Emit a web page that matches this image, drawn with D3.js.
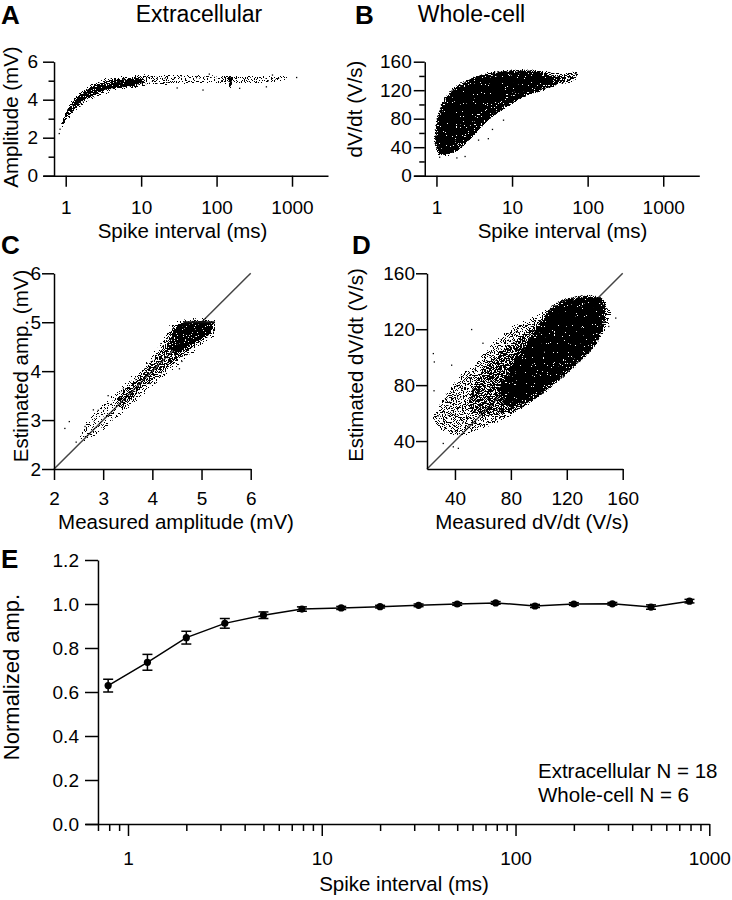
<!DOCTYPE html>
<html><head><meta charset="utf-8">
<script src="https://cdn.jsdelivr.net/npm/d3@7"></script>
<style>
body{margin:0;background:#fff;}
svg{display:block;}
</style></head><body>
<svg id="fig" width="732" height="900"></svg>
<script>
// ================= DATA =================
// Panel E: normalized amplitude vs spike interval
const eIntervals = [0.79, 1.26, 2.0, 3.16, 5.0, 7.9, 12.6, 20, 31.6, 50, 79, 126, 200, 316, 500, 790];
const eNormAmp   = [0.629, 0.735, 0.847, 0.912, 0.949, 0.977, 0.982, 0.988, 0.994, 1.0, 1.005, 0.991, 1.0, 1.001, 0.986, 1.013];
const eSem       = [0.029, 0.036, 0.029, 0.022, 0.015, 0.010, 0.007, 0.006, 0.006, 0.006, 0.006, 0.007, 0.006, 0.006, 0.010, 0.008];
const eLegend    = ["Extracellular N = 18", "Whole-cell N = 6"];

// Tick values
const logMajor = [1, 10, 100, 1000];
const logTickLabels = ["1", "10", "100", "1000"];
const aYTicks = [0, 2, 4, 6], aYMinor = [1, 3, 5];
const bYTicks = [0, 40, 80, 120, 160], bYMinor = [20, 60, 100, 140];
const cTicks = [2, 3, 4, 5, 6];
const dTicks = [40, 80, 120, 160];
const eYTicks = [0, 0.2, 0.4, 0.6, 0.8, 1.0, 1.2];
const eXMinor = [0.7, 0.8, 0.9, 2, 3, 4, 5, 6, 7, 8, 9, 20, 30, 40, 50, 60, 70, 80, 90, 200, 300, 400, 500, 600, 700, 800, 900];

// Scatter clouds: envelopes (outer / mid / dense core), [x, y]
// Panel A: amplitude (mV) vs spike interval (ms)
const aBand = [[0.86,2.5],[0.87,2.9],[0.94,3.3],[1.08,3.75],[1.32,4.2],[1.75,4.6],[2.5,4.98],[4,5.22],[7,5.3],[12,5.28],[12,4.75],[8,4.6],[5,4.45],[3,4.2],[2,3.88],[1.5,3.5],[1.2,3.1],[1.0,2.72],[0.9,2.42]];
const aPlateau = [[8,5.3],[15,5.32],[40,5.32],[120,5.3],[300,5.3],[600,5.27],[880,5.24],[880,5.02],[600,4.88],[300,4.84],[120,4.82],[40,4.8],[15,4.74],[8,4.7]];
const aMid = [[0.88,2.62],[0.93,3.05],[1.06,3.55],[1.3,4.05],[1.75,4.48],[2.5,4.85],[4,5.08],[7,5.16],[11,5.14],[11,4.82],[7,4.68],[4,4.55],[2.8,4.33],[2,4.05],[1.5,3.68],[1.2,3.28],[1.0,2.88],[0.9,2.58]];
const aCore = [[1.25,3.85],[1.7,4.35],[2.5,4.72],[4,4.95],[6.5,5.03],[9,5.0],[9,4.8],[6,4.7],[4,4.6],[2.8,4.45],[2,4.18],[1.5,3.82],[1.3,3.6]];
const aSpike = [[144,5.18],[160,5.18],[157,4.85],[152,4.58],[147,4.85]];
const aOutliers = [[0.82,2.22],[0.84,2.45],[1150,5.17],[457,4.68],[202,4.6],[66,4.51],[30,4.62],[550,5.3],[80,5.35]];

// Panel B: dV/dt (V/s) vs spike interval (ms)
const bOuter = [[0.98,35],[1.0,50],[1.04,62],[1.12,85],[1.32,104],[1.62,118],[2.2,130],[3.3,138],[5.5,144],[10,148],[19,149],[33,146],[50,144],[72,146],[76,140],[58,130],[36,127],[20,118],[11,104],[7,90],[4.7,76],[3.4,61],[2.35,43],[1.75,31],[1.3,27],[1.05,29]];
const bMid = [[1.03,38],[1.06,60],[1.15,84],[1.36,103],[1.68,116],[2.3,127],[3.4,135],[5.6,141],[10,144.5],[19,145],[30,141],[42,136],[38,128],[24,121],[14,111],[9,99],[6,87],[4.2,73],[3,56],[2.1,40],[1.6,32],[1.25,30],[1.08,32]];
const bCore = [[1.08,45],[1.12,70],[1.28,94],[1.55,110],[2.1,123],[3.2,132],[5.4,139],[10,142],[18,142],[27,138],[27,128],[17,121],[10,113],[6.5,104],[4.5,95],[3.2,84],[2.4,68],[1.9,52],[1.55,40],[1.3,36],[1.15,37]];
const bOutliers = [[1.86,25],[2.39,27],[4.85,52],[7.7,78],[5.5,65],[70,143],[64,137],[3.6,50],[1.1,26]];

// Panel C: estimated vs measured amplitude (mV)
const cOuter = [[2.5,2.58],[2.55,2.85],[3.0,3.38],[3.45,3.8],[3.9,4.25],[4.2,4.7],[4.4,5.03],[5.35,5.03],[5.3,4.72],[4.95,4.45],[4.55,4.1],[4.1,3.72],[3.6,3.28],[3.15,2.9],[2.8,2.6]];
const cMid = [[3.25,3.42],[3.7,3.92],[4.1,4.38],[4.3,4.72],[4.5,5.0],[5.3,5.0],[5.22,4.75],[4.88,4.5],[4.5,4.18],[4.1,3.88],[3.7,3.52],[3.35,3.22]];
const cCore = [[4.38,4.58],[4.52,4.92],[5.22,4.98],[5.18,4.8],[4.88,4.6],[4.6,4.42],[4.45,4.36]];
const cCap = [[4.63,5.0],[5.27,5.0]];
const cOutliers = [[2.22,2.83],[2.31,2.97],[2.63,2.87],[2.8,3.21],[2.45,2.55],[2.9,3.2],[4.55,4.05],[4.6,4.2],[3.95,3.75],[3.1,3.5]];
const cDiag = [[2,2],[6,6]];

// Panel D: estimated vs measured dV/dt (V/s)
const dOuter = [[24,56],[29,67],[40,84],[54,96],[66,110],[80.5,122],[97,130],[114,139],[128,143],[145,143],[153,130],[143,114],[124,93],[110,79],[95,67],[78,56],[61,49],[47,44],[32,46]];
const dMid = [[54.3,83.6],[66.2,100.2],[85.2,114.5],[101.9,128.8],[118.6,139.5],[137.6,141.9],[148.4,135.9],[147.1,119.3],[132.9,100.2],[113.8,83.6],[97.1,69.3],[80.5,59.7],[61.4,57.4],[49.5,62.1]];
const dCore = [[113.8,135.9],[130.5,140.7],[143.6,139.5],[144.8,126.4],[137.6,109.8],[120.9,93.1],[104.3,78.8],[90,69.3],[78,66.9],[73.4,74],[80.5,90.7],[90,105],[101.9,121.6]];
const dOutliers = [[24.5,102.6],[25.2,96.6],[25,76],[51.9,119.8],[37.6,94.3],[38.8,35.9],[42.4,34.8],[31.6,38.3],[28,58],[60,110],[150,122],[155,128]];
const dDiag = [[20,20],[160,160]];

// ================= DRAWING =================
const FONT = '"Liberation Sans", Arial, Helvetica, sans-serif';
const svg = d3.select("#fig");
const defs = svg.append("defs");

// stipple texture filters (visual style for dense scatter clouds)
function speckle(id, thr, blur) {
  const f = defs.append("filter").attr("id", id)
    .attr("filterUnits", "userSpaceOnUse").attr("x", 0).attr("y", 0).attr("width", 732).attr("height", 900)
    .attr("color-interpolation-filters", "sRGB");
  f.append("feTurbulence").attr("type", "fractalNoise").attr("baseFrequency", 0.9).attr("numOctaves", 2).attr("seed", 11).attr("result", "n");
  f.append("feColorMatrix").attr("in", "n").attr("type", "matrix")
    .attr("values", "0 0 0 0 0  0 0 0 0 0  0 0 0 0 0  1.8 0 0 0 -0.4").attr("result", "na");
  f.append("feGaussianBlur").attr("in", "SourceAlpha").attr("stdDeviation", blur).attr("result", "b");
  f.append("feComposite").attr("in", "na").attr("in2", "b").attr("operator", "arithmetic")
    .attr("k1", 1).attr("k2", 0).attr("k3", 0).attr("k4", 0).attr("result", "m");
  const ct = f.append("feComponentTransfer").attr("in", "m");
  ct.append("feFuncA").attr("type", "linear").attr("slope", 40).attr("intercept", -40 * thr);
}
speckle("spSparse", 0.68, 1.6);
speckle("spPlateau", 0.6, 1.2);
speckle("spLight", 0.58, 1.6);
speckle("spMid", 0.45, 1.6);
speckle("spMidD", 0.4, 1.6);
speckle("spDense", 0.32, 1.4);
speckle("spCore", 0.14, 1.2);
speckle("spSolid", 0.03, 1.0);
speckle("spSolidSoft", 0.05, 3.5);
speckle("spNarrow", 0.12, 0.5);

function cloud(x, y, pts, filt) {
  const line = d3.line().x(d => x(d[0])).y(d => y(d[1])).curve(d3.curveCatmullRomClosed.alpha(0.5));
  svg.append("path").attr("d", line(pts)).attr("fill", "#000").attr("filter", `url(#${filt})`);
}
function dots(x, y, pts) {
  svg.append("g").selectAll("rect").data(pts).join("rect")
    .attr("x", d => x(d[0]) - 0.6).attr("y", d => y(d[1]) - 0.6)
    .attr("width", 1.3).attr("height", 1.3).attr("fill", "#000");
}
function styleAxis(g, fs) {
  g.attr("font-family", FONT).attr("font-size", fs);
  g.selectAll("path, line").attr("stroke", "#000").attr("stroke-width", 1.5);
  g.selectAll("text").attr("fill", "#000");
}
function addText(txt, x, y, fs, opts = {}) {
  const t = svg.append("text").attr("x", x).attr("y", y).text(txt)
    .attr("font-family", FONT).attr("font-size", fs).attr("fill", "#000")
    .attr("text-anchor", opts.anchor || "start");
  if (opts.bold) t.attr("font-weight", "bold");
  if (opts.rotate) t.attr("transform", `rotate(-90 ${x} ${y})`);
  return t;
}

const TICK_FS = 19, TITLE_FS = 20.5;
const fmtInt = d3.format("d");

// ---------- scales ----------
const xA = d3.scaleLog().domain([0.5, 3000]).range([43, 328]);
const yA = d3.scaleLinear().domain([0, 6]).range([175.7, 61.7]);
const xB = d3.scaleLog().domain([0.5, 3000]).range([413.7, 699.3]);
const yB = d3.scaleLinear().domain([0, 160]).range([175.7, 61.7]);
const xC = d3.scaleLinear().domain([2, 6]).range([54, 250.7]);
const yC = d3.scaleLinear().domain([2, 6]).range([469, 273.3]);
const xD = d3.scaleLinear().domain([20, 160]).range([427, 622.7]);
const yD = d3.scaleLinear().domain([20, 160]).range([469, 273.3]);
const xE = d3.scaleLog().domain([0.6, 1000]).range([85, 709.3]);
const yE = d3.scaleLinear().domain([0, 1.2]).range([824, 560]);

// ---------- Panel A ----------
cloud(xA, yA, aPlateau, "spPlateau");
cloud(xA, yA, aBand, "spLight");
cloud(xA, yA, aMid, "spDense");
cloud(xA, yA, aCore, "spCore");
cloud(xA, yA, aSpike, "spNarrow");
dots(xA, yA, aOutliers);
svg.append("g").attr("transform", `translate(0,${yA(0)})`)
  .call(d3.axisBottom(xA).tickValues(logMajor).tickFormat((d, i) => logTickLabels[i]).tickSize(11).tickPadding(14).tickSizeOuter(0))
  .call(g => styleAxis(g, TICK_FS));
svg.append("g").attr("transform", `translate(${xA(0.7)},0)`)
  .call(d3.axisLeft(yA).tickValues(aYTicks).tickFormat(fmtInt).tickSize(11).tickPadding(5).tickSizeOuter(0))
  .call(g => styleAxis(g, TICK_FS));
svg.append("g").attr("transform", `translate(${xA(0.7)},0)`)
  .call(d3.axisLeft(yA).tickValues(aYMinor).tickSize(5.5).tickFormat(""))
  .call(g => { g.select(".domain").remove(); styleAxis(g, TICK_FS); });

// ---------- Panel B ----------
cloud(xB, yB, bOuter, "spMid");
cloud(xB, yB, bMid, "spCore");
cloud(xB, yB, bCore, "spSolidSoft");
dots(xB, yB, bOutliers);
svg.append("g").attr("transform", `translate(0,${yB(0)})`)
  .call(d3.axisBottom(xB).tickValues(logMajor).tickFormat((d, i) => logTickLabels[i]).tickSize(11).tickPadding(14).tickSizeOuter(0))
  .call(g => styleAxis(g, TICK_FS));
svg.append("g").attr("transform", `translate(${xB(0.7)},0)`)
  .call(d3.axisLeft(yB).tickValues(bYTicks).tickFormat(fmtInt).tickSize(11).tickPadding(2).tickSizeOuter(0))
  .call(g => styleAxis(g, TICK_FS));
svg.append("g").attr("transform", `translate(${xB(0.7)},0)`)
  .call(d3.axisLeft(yB).tickValues(bYMinor).tickSize(5.5).tickFormat(""))
  .call(g => { g.select(".domain").remove(); styleAxis(g, TICK_FS); });

// ---------- Panel C ----------
const diagC = d3.line().x(d => xC(d[0])).y(d => yC(d[1]));
svg.append("path").attr("d", diagC(cDiag)).attr("stroke", "#444").attr("stroke-width", 1.5).attr("fill", "none");
cloud(xC, yC, cOuter, "spSparse");
cloud(xC, yC, cMid, "spMid");
cloud(xC, yC, cCore, "spCore");
svg.append("path").attr("d", diagC(cCap)).attr("stroke", "#111").attr("stroke-width", 2).attr("fill", "none");
dots(xC, yC, cOutliers);
svg.append("g").attr("transform", `translate(0,${yC(2)})`)
  .call(d3.axisBottom(xC).tickValues(cTicks).tickFormat(fmtInt).tickSize(11).tickPadding(12).tickSizeOuter(0))
  .call(g => styleAxis(g, TICK_FS));
svg.append("g").attr("transform", `translate(${xC(2)},0)`)
  .call(d3.axisLeft(yC).tickValues(cTicks).tickFormat(fmtInt).tickSize(12).tickPadding(1).tickSizeOuter(0))
  .call(g => styleAxis(g, TICK_FS));

// ---------- Panel D ----------
const diagD = d3.line().x(d => xD(d[0])).y(d => yD(d[1]));
svg.append("path").attr("d", diagD(dDiag)).attr("stroke", "#444").attr("stroke-width", 1.5).attr("fill", "none");
cloud(xD, yD, dOuter, "spLight");
cloud(xD, yD, dMid, "spMidD");
cloud(xD, yD, dCore, "spSolidSoft");
dots(xD, yD, dOutliers);
svg.append("g").attr("transform", `translate(0,${yD(20)})`)
  .call(d3.axisBottom(xD).tickValues(dTicks).tickFormat(fmtInt).tickSize(11).tickPadding(12).tickSizeOuter(0))
  .call(g => styleAxis(g, TICK_FS));
svg.append("g").attr("transform", `translate(${xD(20)},0)`)
  .call(d3.axisLeft(yD).tickValues(dTicks).tickFormat(fmtInt).tickSize(11).tickPadding(1).tickSizeOuter(0))
  .call(g => styleAxis(g, TICK_FS));

// ---------- Panel E ----------
svg.append("g").attr("transform", `translate(0,${yE(0)})`)
  .call(d3.axisBottom(xE).tickValues(logMajor).tickFormat((d, i) => logTickLabels[i]).tickSize(12).tickPadding(16).tickSizeOuter(0))
  .call(g => styleAxis(g, TICK_FS));
svg.append("g").attr("transform", `translate(0,${yE(0)})`)
  .call(d3.axisBottom(xE).tickValues(eXMinor).tickSize(7).tickFormat(""))
  .call(g => { g.select(".domain").remove(); styleAxis(g, TICK_FS); });
svg.append("g").attr("transform", `translate(${xE(0.7)},0)`)
  .call(d3.axisLeft(yE).tickValues(eYTicks).tickFormat(d3.format(".1f")).tickSize(13).tickPadding(6).tickSizeOuter(0))
  .call(g => styleAxis(g, TICK_FS));

const eData = eIntervals.map((x, i) => ({x, y: eNormAmp[i], s: eSem[i]}));
svg.append("path").datum(eData)
  .attr("d", d3.line().x(d => xE(d.x)).y(d => yE(d.y)))
  .attr("fill", "none").attr("stroke", "#000").attr("stroke-width", 1.5);
const eb = svg.append("g").attr("stroke", "#000").attr("stroke-width", 1.5);
eb.selectAll("line.v").data(eData).join("line").attr("class", "v")
  .attr("x1", d => xE(d.x)).attr("x2", d => xE(d.x))
  .attr("y1", d => yE(d.y - d.s)).attr("y2", d => yE(d.y + d.s));
eb.selectAll("line.t").data(eData).join("line").attr("class", "t")
  .attr("x1", d => xE(d.x) - 5).attr("x2", d => xE(d.x) + 5)
  .attr("y1", d => yE(d.y + d.s)).attr("y2", d => yE(d.y + d.s));
eb.selectAll("line.b").data(eData).join("line").attr("class", "b")
  .attr("x1", d => xE(d.x) - 5).attr("x2", d => xE(d.x) + 5)
  .attr("y1", d => yE(d.y - d.s)).attr("y2", d => yE(d.y - d.s));
svg.append("g").selectAll("circle").data(eData).join("circle")
  .attr("cx", d => xE(d.x)).attr("cy", d => yE(d.y)).attr("r", 3.6).attr("fill", "#000");

eLegend.forEach((t, i) => addText(t, 538, 778 + i * 24, TITLE_FS));

// ---------- Titles & labels ----------
addText("A", 1, 24, 26, {bold: true});
addText("B", 355, 24, 26, {bold: true});
addText("C", 1, 254, 26, {bold: true});
addText("D", 352, 254, 26, {bold: true});
addText("E", 1, 568, 26, {bold: true});
addText("Extracellular", 199, 21.5, 23, {anchor: "middle"});
addText("Whole-cell", 471.5, 21.5, 23, {anchor: "middle"});

addText("Spike interval (ms)", 182.5, 238, TITLE_FS, {anchor: "middle"});
addText("Spike interval (ms)", 562.5, 238, TITLE_FS, {anchor: "middle"});
addText("Measured amplitude (mV)", 176, 528.5, TITLE_FS, {anchor: "middle"});
addText("Measured dV/dt (V/s)", 532, 528.5, TITLE_FS, {anchor: "middle"});
addText("Spike interval (ms)", 404, 891, TITLE_FS, {anchor: "middle"});

addText("Amplitude (mV)", 18, 117, TITLE_FS, {anchor: "middle", rotate: true});
addText("dV/dt (V/s)", 362, 109, TITLE_FS, {anchor: "middle", rotate: true});
addText("Estimated amp. (mV)", 27.5, 366, TITLE_FS, {anchor: "middle", rotate: true});
addText("Estimated dV/dt (V/s)", 363, 365, TITLE_FS, {anchor: "middle", rotate: true});
addText("Normalized amp.", 19, 677, 22, {anchor: "middle", rotate: true});
</script>
</body></html>
